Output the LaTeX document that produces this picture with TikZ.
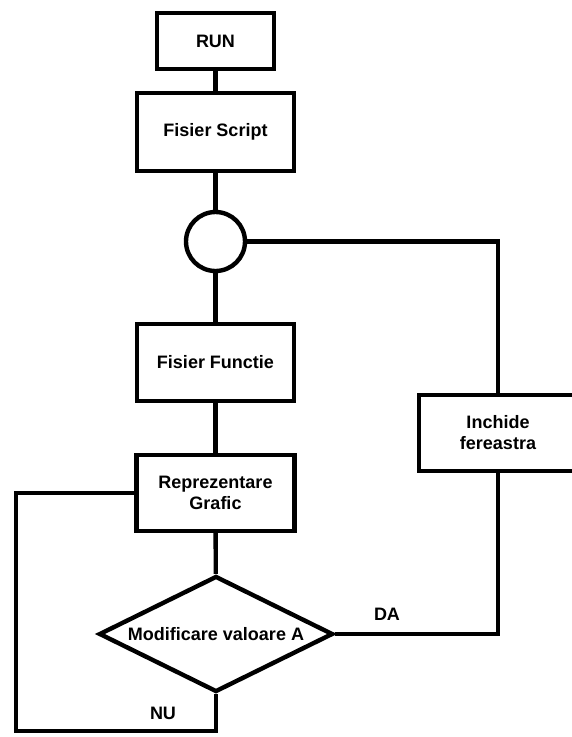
\documentclass[tikz,border=0pt]{standalone}
\usepackage{fontspec}
\setmainfont{Liberation Sans}
\usetikzlibrary{shapes.geometric}
\begin{document}
\begin{tikzpicture}[x=1pt,y=-1pt,
  every node/.style={font=\fontsize{18}{21}\selectfont\bfseries, align=center},
  box/.style={draw, line width=4.4pt, inner sep=0pt},
  conn/.style={line width=4.4pt}]
\useasboundingbox (0,0) rectangle (572,737);
\node[box, minimum width=117pt, minimum height=56pt] (run) at (215.5,41) {RUN};
\node[box, minimum width=157pt, minimum height=78pt] (script) at (215.5,132) {Fisier Script};
\node[box, circle, minimum size=59pt] (circ) at (215.5,241.5) {};
\node[box, minimum width=157pt, minimum height=77pt] (functie) at (215.5,362.5) {Fisier Functie};
\node[box, minimum width=158pt, minimum height=76pt] (repr) at (215.5,493) {Reprezentare\\Grafic};
\node[box, diamond, aspect=2, minimum width=234pt, minimum height=116pt] (dia) at (216,634) {Modificare valoare A};
\node[box, minimum width=158pt, minimum height=76pt] (inch) at (498,433) {Inchide\\fereastra};
\coordinate (loop) at (16,731);
\node (da) at (387,614) {DA};
\node (nu) at (163,713) {NU};
\draw[conn] (run) -- (script);
\draw[conn] (script) -- (circ);
\draw[conn] (circ) -- (functie);
\draw[conn] (functie) -- (repr);
\draw[conn] (repr) -- (dia);
\draw[conn] (circ.east) -| (inch.north);
\draw[conn] (dia.east) -| (inch.south);
\draw[conn] (dia.south) |- (loop) |- (repr.west);
\end{tikzpicture}
\end{document}
